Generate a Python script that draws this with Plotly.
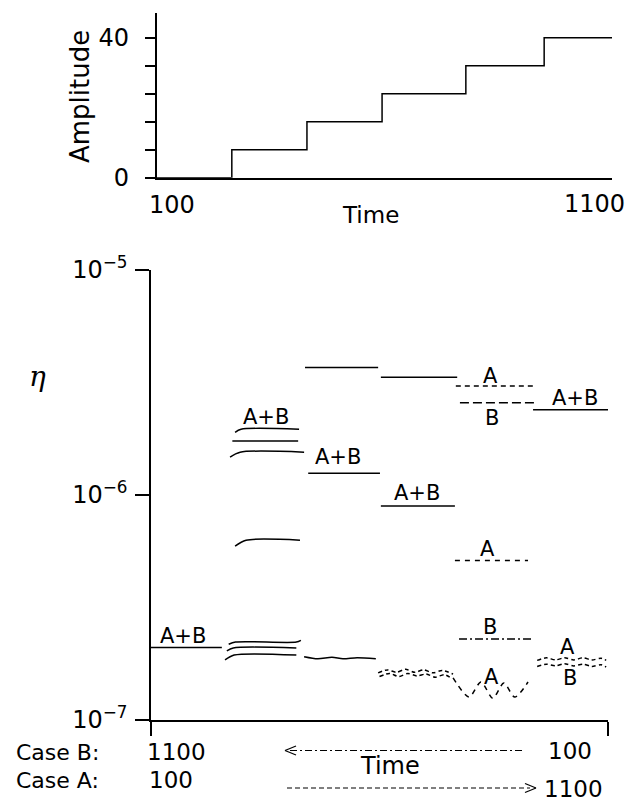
import plotly.graph_objects as go

W, H = 632, 803
FONT = "DejaVu Sans"
WEIGHT = 400

def fx(px):
    return px / W

def fy(py):
    return 1 - py / H

# ---------------- data: top panel (amplitude staircase) ----------------
amp_time = [100, 265, 430, 595, 779, 951, 1100]
amp_level = [0, 8, 16, 24, 32, 40, 40]
amp_major_ticks = [0, 40]
amp_minor_ticks = [8, 16, 24, 32]

# ---------------- data: bottom panel (eta levels) ----------------
eta_ticks = [1e-7, 1e-6, 1e-5]
eta_ticktext = ["10<sup>−7</sup>", "10<sup>−6</sup>", "10<sup>−5</sup>"]

s1_t = [100, 255]
s1_v = [2.10e-7, 2.10e-7]

s2_l1_t = [284, 297, 424]
s2_l1_v = [1.90e-6, 1.96e-6, 1.96e-6]
s2_l2_t = [278, 422]
s2_l2_v = [1.74e-6, 1.74e-6]
s2_l3_t = [273, 295, 435]
s2_l3_v = [1.475e-6, 1.55e-6, 1.55e-6]
s2_l4_t = [284, 308, 426]
s2_l4_v = [5.93e-7, 6.30e-7, 6.30e-7]
s2_l5_t = [270, 285, 418, 428]
s2_l5_v = [2.17e-7, 2.22e-7, 2.22e-7, 2.26e-7]
s2_l6_t = [266, 280, 418]
s2_l6_v = [2.03e-7, 2.09e-7, 2.09e-7]
s2_l7_t = [262, 282, 418]
s2_l7_v = [1.85e-7, 1.944e-7, 1.944e-7]

s3_top_t = [437, 597]
s3_top_v = [3.69e-6, 3.69e-6]
s3_ab_t = [444, 601]
s3_ab_v = [1.25e-6, 1.25e-6]
s3_wave_t = [435, 465, 496, 520, 551, 592]
s3_wave_v = [1.91e-7, 1.87e-7, 1.90e-7, 1.87e-7, 1.89e-7, 1.87e-7]

s4_top_t = [603, 770]
s4_top_v = [3.34e-6, 3.34e-6]
s4_ab_t = [603, 765]
s4_ab_v = [8.94e-7, 8.94e-7]
s4_wa_t = [597, 617, 637, 657, 677, 697, 717, 737, 761]
s4_wa_v = [1.62e-7, 1.67e-7, 1.63e-7, 1.68e-7, 1.63e-7, 1.67e-7, 1.62e-7, 1.66e-7, 1.60e-7]
s4_wb_t = [600, 622, 642, 662, 682, 702, 722, 742, 758]
s4_wb_v = [1.56e-7, 1.61e-7, 1.56e-7, 1.61e-7, 1.57e-7, 1.60e-7, 1.55e-7, 1.59e-7, 1.53e-7]

s5_ahi_t = [767, 936]
s5_ahi_v = [3.05e-6, 3.05e-6]
s5_bhi_t = [776, 940]
s5_bhi_v = [2.57e-6, 2.57e-6]
s5_amid_t = [765, 925]
s5_amid_v = [5.12e-7, 5.12e-7]
s5_blo_t = [774, 936]
s5_blo_v = [2.29e-7, 2.29e-7]
s5_aw_t = [761, 796, 822, 848, 872, 896, 925]
s5_aw_v = [1.54e-7, 1.265e-7, 1.475e-7, 1.25e-7, 1.46e-7, 1.265e-7, 1.475e-7]

s6_ab_t = [936, 1100]
s6_ab_v = [2.39e-6, 2.39e-6]
s6_aw_t = [945, 965, 985, 1005, 1025, 1045, 1065, 1085, 1096]
s6_aw_v = [1.84e-7, 1.89e-7, 1.85e-7, 1.89e-7, 1.85e-7, 1.89e-7, 1.85e-7, 1.88e-7, 1.84e-7]
s6_bw_t = [945, 965, 985, 1005, 1025, 1045, 1065, 1085, 1096]
s6_bw_v = [1.73e-7, 1.77e-7, 1.74e-7, 1.78e-7, 1.74e-7, 1.77e-7, 1.73e-7, 1.76e-7, 1.72e-7]

fig = go.Figure()

# top staircase
fig.add_trace(go.Scatter(x=amp_time, y=amp_level, mode="lines",
                         line=dict(color="black", width=1.5, shape="hv"),
                         xaxis="x", yaxis="y", showlegend=False, hoverinfo="skip"))

def add_line(t, v, dash="solid", shape="spline"):
    fig.add_trace(go.Scatter(x=t, y=v, mode="lines",
                             line=dict(color="black", width=1.5, dash=dash,
                                       shape=shape, smoothing=0.8),
                             xaxis="x2", yaxis="y2", showlegend=False, hoverinfo="skip"))

add_line(s1_t, s1_v)
for t, v in [(s2_l1_t, s2_l1_v), (s2_l2_t, s2_l2_v), (s2_l3_t, s2_l3_v),
             (s2_l4_t, s2_l4_v), (s2_l5_t, s2_l5_v), (s2_l6_t, s2_l6_v),
             (s2_l7_t, s2_l7_v)]:
    add_line(t, v)
add_line(s3_top_t, s3_top_v)
add_line(s3_ab_t, s3_ab_v)
add_line(s3_wave_t, s3_wave_v)
add_line(s4_top_t, s4_top_v)
add_line(s4_ab_t, s4_ab_v)
add_line(s4_wa_t, s4_wa_v, dash="4px,3px")
add_line(s4_wb_t, s4_wb_v, dash="4px,3px")
add_line(s5_ahi_t, s5_ahi_v, dash="5px,4px")
add_line(s5_bhi_t, s5_bhi_v, dash="9px,4px")
add_line(s5_amid_t, s5_amid_v, dash="5px,5px")
add_line(s5_blo_t, s5_blo_v, dash="8px,3px,2px,3px")
add_line(s5_aw_t, s5_aw_v, dash="5px,5px")
add_line(s6_ab_t, s6_ab_v)
add_line(s6_aw_t, s6_aw_v, dash="4px,3px")
add_line(s6_bw_t, s6_bw_v, dash="4px,3px")

annotations = []

def txt(text, x, y, size=21, xref="x2", yref="y2", xanchor="center", yanchor="middle",
        angle=0, italic=False, family=FONT):
    annotations.append(dict(text=text, x=x, y=y, xref=xref, yref=yref, showarrow=False,
                            xanchor=xanchor, yanchor=yanchor, textangle=angle,
                            font=dict(family=family, size=size, color="black",
                                      weight=WEIGHT,
                                      style="italic" if italic else "normal")))

# labels on the eta panel (x: time, y: log10 eta)
txt("A+B", 170, -6.625)
txt("A+B", 352, -5.652)
txt("A+B", 509, -5.830)
txt("A+B", 682, -5.991)
txt("A", 842, -5.470)
txt("B", 846, -5.656)
txt("A+B", 1028, -5.569)
txt("A", 837, -6.240)
txt("B", 842, -6.587)
txt("A", 845, -6.808)
txt("A", 1012, -6.676)
txt("B", 1017, -6.813)

# paper-positioned texts
def ptxt(text, px, py, size=24, xanchor="center", angle=0, italic=False, family=FONT):
    txt(text, fx(px), fy(py), size=size, xref="paper", yref="paper",
        xanchor=xanchor, angle=angle, italic=italic, family=family)

ptxt("Amplitude", 80, 97, size=26, angle=-90)
ptxt("100", 172, 205, size=24)
ptxt("Time", 370, 215, size=23)
ptxt("1100", 594, 204, size=24)
ptxt("η", 37, 376, size=28, italic=True, family="DejaVu Serif")
ptxt("Case B:", 14, 752, size=22, xanchor="left")
ptxt("1100", 176, 752, size=23)
ptxt("Case A:", 14, 780, size=22, xanchor="left")
ptxt("100", 171, 780, size=23)
ptxt("Time", 390, 766, size=24)
ptxt("100", 570, 751, size=23)
ptxt("1100", 573, 789, size=23)

shapes = []
def pline(x0, y0, x1, y1, dash="solid"):
    shapes.append(dict(type="line", xref="paper", yref="paper",
                       x0=fx(x0), y0=fy(y0), x1=fx(x1), y1=fy(y1),
                       line=dict(color="black", width=1.2, dash=dash)))

# Case B arrow (dash-dot, pointing left)
pline(290, 750.5, 524, 750.5, dash="7px,3px,2px,3px")
pline(285, 750.5, 296, 746)
pline(285, 750.5, 296, 755)
# Case A arrow (dashed, pointing right)
pline(287, 788, 530, 788, dash="5px,3px")
pline(536, 788, 525, 783.5)
pline(536, 788, 525, 792.5)

axis_common = dict(showgrid=False, zeroline=False, showline=True, linecolor="black",
                   linewidth=1.5, ticks="outside", tickcolor="black", tickwidth=1.5,
                   automargin=False)

fig.update_layout(
    template="none",
    width=W, height=H, autosize=False,
    margin=dict(l=0, r=0, t=0, b=0),
    font=dict(family=FONT, color="black"),
    paper_bgcolor="white", plot_bgcolor="white",
    xaxis=dict(domain=[fx(156.7), fx(612)], range=[100, 1100], anchor="y",
               showticklabels=False, ticks="", showline=True, linecolor="black",
               linewidth=1.5, showgrid=False, zeroline=False, automargin=False),
    yaxis=dict(domain=[fy(177.7), fy(12.7)], range=[0, 47.14], anchor="x",
               tickvals=amp_major_ticks, ticklen=10, ticklabelstandoff=11,
               minor=dict(tickvals=amp_minor_ticks, ticks="outside", ticklen=10,
                          tickcolor="black", tickwidth=1.5, showgrid=False),
               tickfont=dict(family=FONT, size=24, color="black", weight=WEIGHT),
               **axis_common),
    xaxis2=dict(domain=[fx(151), fx(608)], range=[100, 1100], anchor="y2",
                tickvals=[100, 1100], ticklen=14, showticklabels=False, **axis_common),
    yaxis2=dict(domain=[fy(720), fy(270)], type="log", range=[-7, -5], anchor="x2",
                tickvals=eta_ticks, ticktext=eta_ticktext, ticklen=14,
                ticklabelstandoff=3,
                tickfont=dict(family=FONT, size=24, color="black", weight=WEIGHT),
                **axis_common),
    annotations=annotations,
    shapes=shapes,
)

fig.write_html("out.html", config={"displayModeBar": False},
               post_script="document.body.style.margin='0px';document.body.style.overflow='hidden';")
